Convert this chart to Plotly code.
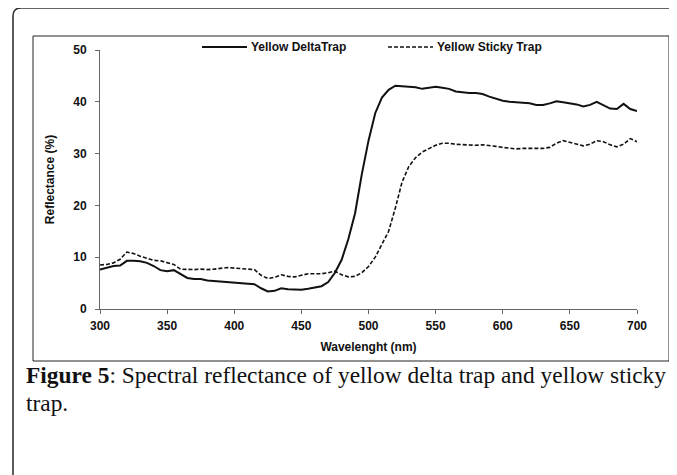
import plotly.graph_objects as go

wavelength = list(range(300, 701, 5))

delta_trap = [7.6, 8.0, 8.3, 8.4, 9.3, 9.3, 9.2, 8.9, 8.3, 7.5,
              7.3, 7.5, 6.7, 6.0, 5.8, 5.8, 5.5, 5.4, 5.3, 5.1,
              5.0, 5.0, 4.9, 4.8, 4.0, 3.4, 3.5, 4.0, 3.8, 3.7,
              3.7, 3.9, 4.1, 4.4, 5.2, 7.0, 9.5, 13.5, 18.5, 26.0,
              32.5, 37.8, 40.8, 42.3, 43.1, 43.0, 42.8, 42.8, 42.5, 42.7,
              42.9, 42.7, 42.5, 42.0, 41.8, 41.7, 41.7, 41.5, 41.0, 40.6,
              40.2, 40.0, 39.9, 39.9, 39.7, 39.4, 39.4, 39.7, 40.1, 39.9,
              39.7, 39.5, 39.1, 39.4, 40.0, 39.3, 38.7, 38.6, 39.6, 38.6,
              38.2]

sticky_trap = [8.5, 8.6, 8.9, 9.6, 11.0, 10.7, 10.2, 9.8, 9.4, 9.3,
               9.0, 8.6, 7.7, 7.6, 7.6, 7.7, 7.6, 7.7, 7.8, 8.0,
               7.9, 7.8, 7.7, 7.6, 6.5, 5.9, 6.1, 6.6, 6.3, 6.2,
               6.5, 6.8, 6.8, 6.8, 7.0, 7.3, 6.6, 6.2, 6.3, 7.0,
               8.2, 10.0, 12.5, 15.0, 19.5, 24.5, 27.5, 29.2, 30.3, 31.0,
               31.6, 32.0, 32.0, 31.8, 31.7, 31.6, 31.6, 31.7, 31.6, 31.4,
               31.2, 31.0, 30.9, 31.0, 31.0, 30.9, 31.0, 31.2, 32.0, 32.5,
               32.2, 31.8, 31.5, 31.8, 32.5, 32.3, 31.7, 31.3, 31.8, 32.9,
               32.3]

series_names = ["Yellow DeltaTrap", "Yellow Sticky Trap"]
x_ticks = [300, 350, 400, 450, 500, 550, 600, 650, 700]
y_ticks = [0, 10, 20, 30, 40, 50]

OFF = 8  # page body margin
W, H = 677 - OFF, 475 - OFF
L, R, T, B = 100, 637, 50, 309  # plot area in page pixels


def px(x):
    return (x - L) / (R - L)


def py(y):
    return (B - y) / (B - T)


fig = go.Figure()
fig.add_trace(go.Scatter(x=wavelength, y=delta_trap, mode="lines",
                         name=series_names[0], showlegend=False,
                         line=dict(color="#111111", width=2)))
fig.add_trace(go.Scatter(x=wavelength, y=sticky_trap, mode="lines",
                         name=series_names[1], showlegend=False,
                         line=dict(color="#111111", width=1.6, dash="4px,2px")))

bold_font = dict(family="Liberation Sans", size=12, color="#111111", weight="bold")

shapes = []
# outer card (rounded top-left corner)
x0, y0, r = 13, 8, 8
path = (f"M {px(x0)},{py(480)} L {px(x0)},{py(y0 + r)} "
        f"Q {px(x0)},{py(y0)} {px(x0 + r)},{py(y0)} L {px(690)},{py(y0)}")
shapes.append(dict(type="path", xref="paper", yref="paper", path=path,
                   line=dict(color="#333333", width=1.6)))
# chart box
shapes.append(dict(type="rect", xref="paper", yref="paper",
                   x0=px(33), x1=px(669), y0=py(361), y1=py(36),
                   line=dict(color="#222222", width=1)))
# legend samples
shapes.append(dict(type="line", xref="paper", yref="paper",
                   x0=px(202), x1=px(247), y0=py(47), y1=py(47),
                   line=dict(color="#111111", width=2)))
shapes.append(dict(type="line", xref="paper", yref="paper",
                   x0=px(388), x1=px(433), y0=py(47), y1=py(47),
                   line=dict(color="#111111", width=1.5, dash="4px,2px")))

caption_font = dict(family="Liberation Serif", size=23.4, color="#111111")
annotations = [
    dict(x=px(249), y=py(47), xref="paper", yref="paper", text=series_names[0],
         showarrow=False, xanchor="left", yanchor="middle", font=bold_font),
    dict(x=px(435), y=py(47), xref="paper", yref="paper", text=series_names[1],
         showarrow=False, xanchor="left", yanchor="middle", font=bold_font),
    dict(x=px(24), y=py(375), xref="paper", yref="paper",
         text="<b>Figure 5</b>: Spectral reflectance of yellow delta trap and yellow sticky",
         showarrow=False, xanchor="left", yanchor="middle", font=caption_font),
    dict(x=px(24), y=py(403), xref="paper", yref="paper", text="trap.",
         showarrow=False, xanchor="left", yanchor="middle", font=caption_font),
]

fig.update_layout(
    width=W, height=H,
    margin=dict(l=L - OFF, r=W - (R - OFF), t=T - OFF, b=H - (B - OFF), pad=0),
    paper_bgcolor="white", plot_bgcolor="white",
    shapes=shapes, annotations=annotations,
    font=dict(family="Liberation Sans", color="#111111"),
    xaxis=dict(range=[300, 700], tickvals=x_ticks, showgrid=False, zeroline=False,
               showline=True, linecolor="#666666", linewidth=1,
               ticks="outside", ticklen=4, tickcolor="#666666",
               tickfont=bold_font, ticklabelstandoff=2,
               title=dict(text="Wavelenght (nm)", standoff=10, font=bold_font)),
    yaxis=dict(range=[0, 50], tickvals=y_ticks, showgrid=False, zeroline=False,
               showline=True, linecolor="#666666", linewidth=1,
               ticks="outside", ticklen=4, tickcolor="#666666",
               tickfont=bold_font, ticklabelstandoff=6,
               title=dict(text="Reflectance (%)", standoff=16, font=bold_font)),
)

fig.write_html("out.html")
